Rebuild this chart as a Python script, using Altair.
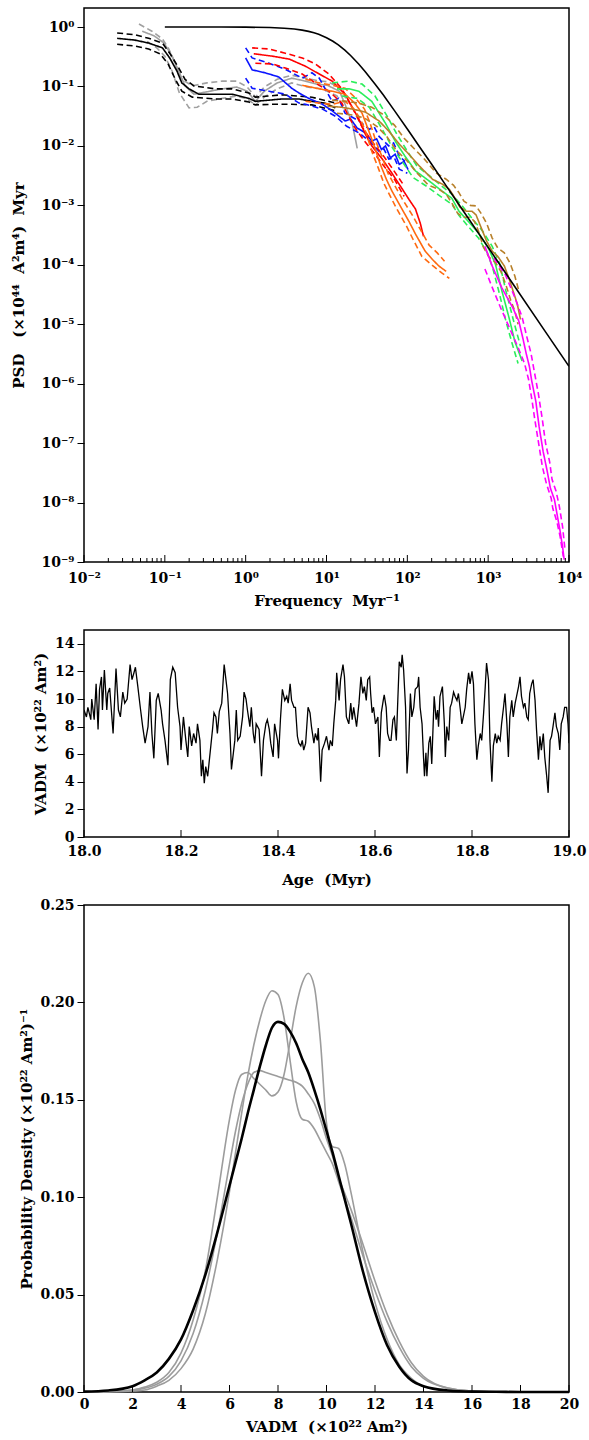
import altair as alt
import pandas as pd

FONT = "DejaVu Serif"
SP = "\u00a0"

# ---------------- top panel: PSD curves, (log10 frequency, log10 PSD) -------------
THEORY_F = [0.1, 0.5, 1, 2, 3, 4, 5, 6, 7, 8, 10, 12, 14, 17, 20, 25, 30, 40, 50, 70, 100,
            150, 200, 300, 500, 1000, 2000, 5000, 10000]
THEORY_P = [1.0, 0.999, 0.995, 0.98, 0.956, 0.925, 0.887, 0.845, 0.8, 0.754, 0.662, 0.577, 0.5,
            0.404, 0.329, 0.239, 0.179, 0.109, 0.073, 0.0385, 0.0192, 0.0086, 0.0049, 0.00217,
            0.00078, 0.000196, 0.000049, 0.0000078, 0.00000196]

BLACK_MID = [(-1.59,-0.19),(-1.37,-0.22),(-1.20,-0.27),(-1.03,-0.35),(-0.94,-0.52),(-0.85,-0.74),
             (-0.79,-0.94),(-0.70,-1.04),(-0.58,-1.13),(-0.38,-1.13),(-0.17,-1.13),(0.04,-1.20),
             (0.12,-1.25),(0.29,-1.23),(0.45,-1.21),(0.66,-1.21),(0.82,-1.25),(0.98,-1.28),(1.11,-1.36)]
BLACK_HI = [(-1.59,-0.10),(-1.37,-0.13),(-1.20,-0.19),(-1.03,-0.27),(-0.94,-0.44),(-0.84,-0.66),
            (-0.75,-0.88),(-0.64,-0.99),(-0.38,-1.04),(-0.17,-1.04),(0.04,-1.11),(0.12,-1.18),
            (0.45,-1.14),(0.82,-1.18),(1.11,-1.28)]
BLACK_LO = [(-1.59,-0.29),(-1.37,-0.32),(-1.20,-0.37),(-1.06,-0.45),(-0.96,-0.62),(-0.87,-0.88),
            (-0.79,-1.08),(-0.66,-1.18),(-0.38,-1.21),(-0.17,-1.21),(0.04,-1.26),(0.12,-1.31),
            (0.33,-1.30),(0.57,-1.30),(0.82,-1.31),(1.11,-1.41)]

GRAY_MID = [(-1.28,-0.07),(-1.13,-0.15),(-1.01,-0.27),(-0.91,-0.49),(-0.82,-0.77),(-0.75,-0.99),
            (-0.64,-1.13),(-0.48,-1.09),(-0.29,-1.04),(-0.11,-1.01),(0.02,-1.08),(0.12,-1.25),
            (0.23,-1.08),(0.39,-0.94),(0.57,-0.86),(0.74,-0.91),(0.88,-0.96),(1.01,-0.98),
            (1.16,-1.08),(1.23,-1.30),(1.32,-1.63),(1.38,-2.04)]
GRAY_HI = [(-1.32,0.05),(-1.16,-0.07),(-1.03,-0.20),(-0.95,-0.37),(-0.87,-0.62),(-0.79,-0.88),
           (-0.66,-0.99),(-0.48,-0.94),(-0.29,-0.91),(-0.11,-0.91),(0.02,-1.01),(0.12,-1.18),
           (0.23,-1.01),(0.39,-0.88),(0.57,-0.81),(0.74,-0.86),(0.88,-0.90),(1.01,-0.92),
           (1.16,-1.01),(1.24,-1.20)]
GRAY_LO = [(-1.22,-0.24),(-1.10,-0.35),(-1.00,-0.49),(-0.91,-0.74),(-0.82,-1.11),(-0.70,-1.36),
           (-0.60,-1.35),(-0.48,-1.25),(-0.29,-1.20),(-0.11,-1.16),(0.02,-1.21),(0.12,-1.31),
           (0.23,-1.18),(0.39,-1.04),(0.57,-0.94),(0.76,-1.01),(0.95,-1.04),(1.13,-1.16),(1.22,-1.38)]

BLUE_MID = [(0.00,-0.52),(0.08,-0.72),(0.24,-0.77),(0.41,-0.84),(0.57,-1.03),(0.66,-1.11),
            (0.78,-1.20),(0.95,-1.30),(1.07,-1.41),(1.23,-1.58),(1.30,-1.55),(1.38,-1.70),
            (1.48,-1.78),(1.56,-1.92),(1.62,-1.88),(1.68,-2.06),(1.73,-2.00),(1.79,-2.20),
            (1.85,-2.14),(1.90,-2.31),(1.96,-2.26),(2.01,-2.40)]
BLUE_HI = [(0.00,-0.35),(0.08,-0.52),(0.29,-0.61),(0.49,-0.71),(0.70,-0.86),(0.82,-0.77),
           (0.91,-0.86),(1.07,-1.25),(1.15,-1.20),(1.23,-1.45),(1.40,-1.58),(1.53,-1.72),
           (1.59,-1.68),(1.65,-1.84),(1.77,-2.00),(1.83,-1.95),(1.90,-2.17),(1.97,-2.26)]
BLUE_LO = [(0.00,-0.86),(0.08,-1.03),(0.29,-1.08),(0.49,-1.13),(0.66,-1.28),(0.74,-1.30),
           (0.95,-1.38),(1.11,-1.50),(1.25,-1.67),(1.40,-1.78),(1.53,-1.92),(1.65,-2.09),
           (1.71,-2.05),(1.77,-2.22),(1.84,-2.20),(1.90,-2.39),(2.00,-2.46)]

RED_MID = [(0.10,-0.45),(0.33,-0.49),(0.54,-0.54),(0.74,-0.66),(0.91,-0.79),(1.07,-0.91),
           (1.23,-1.13),(1.40,-1.55),(1.48,-1.80),(1.56,-2.00),(1.69,-2.22),(1.81,-2.46),
           (1.94,-2.73),(2.02,-2.90),(2.10,-3.06),(2.16,-3.30),(2.20,-3.52)]
RED_HI = [(0.08,-0.35),(0.29,-0.37),(0.49,-0.44),(0.70,-0.52),(0.86,-0.62),(1.03,-0.79),
          (1.19,-1.04),(1.34,-1.41),(1.44,-1.68),(1.56,-1.92),(1.69,-2.14),(1.81,-2.37),(1.94,-2.63)]
RED_LO = [(0.12,-0.61),(0.33,-0.62),(0.49,-0.69),(0.70,-0.79),(0.86,-0.94),(1.03,-1.08),
          (1.19,-1.28),(1.34,-1.67),(1.47,-1.92),(1.59,-2.12),(1.71,-2.34),(1.84,-2.56),(1.96,-2.85)]

ORANGE_MID = [(0.70,-0.98),(0.91,-1.04),(1.07,-1.08),(1.23,-1.13),(1.35,-1.28),(1.44,-1.45),
              (1.51,-1.70),(1.59,-2.00),(1.66,-2.29),(1.74,-2.56),(1.81,-2.76),(1.90,-2.98),
              (2.02,-3.27),(2.10,-3.48),(2.22,-3.77),(2.31,-3.91),(2.39,-4.02),(2.48,-4.11)]
ORANGE_HI = [(0.74,-0.88),(0.91,-0.94),(1.07,-0.98),(1.23,-1.03),(1.35,-1.18),(1.47,-1.38),
             (1.54,-1.62),(1.61,-1.92),(1.69,-2.19),(1.76,-2.46),(1.85,-2.68),(1.94,-2.90),
             (2.06,-3.16),(2.15,-3.38),(2.27,-3.67),(2.37,-3.80),(2.46,-3.94)]
ORANGE_LO = [(0.74,-1.25),(0.91,-1.28),(1.07,-1.30),(1.23,-1.25),(1.34,-1.38),(1.42,-1.55),
             (1.49,-1.78),(1.56,-2.09),(1.64,-2.37),(1.71,-2.63),(1.79,-2.85),(1.87,-3.06),
             (1.99,-3.35),(2.07,-3.57),(2.18,-3.86),(2.31,-4.01),(2.43,-4.14),(2.52,-4.23)]

GREEN_MID = [(1.13,-1.04),(1.28,-1.04),(1.40,-1.08),(1.56,-1.25),(1.73,-1.62),(1.85,-1.92),
             (1.97,-2.17),(2.10,-2.42),(2.27,-2.59),(2.43,-2.76),(2.55,-2.88),(2.64,-3.10),
             (2.76,-3.28),(2.89,-3.48),(3.01,-3.74),(3.09,-3.99),(3.17,-4.44),(3.26,-4.90),
             (3.33,-5.29),(3.42,-5.62)]
GREEN_HI = [(1.07,-0.94),(1.28,-0.91),(1.44,-0.96),(1.60,-1.16),(1.75,-1.50),(1.87,-1.80),
            (2.00,-2.09),(2.12,-2.34),(2.28,-2.51),(2.43,-2.68),(2.55,-2.81),(2.68,-3.01),
            (2.80,-3.22),(2.93,-3.43),(3.05,-3.69),(3.14,-3.97),(3.22,-4.44),(3.31,-4.92),(3.40,-5.37)]
GREEN_LO = [(1.19,-1.16),(1.38,-1.20),(1.53,-1.35),(1.69,-1.72),(1.82,-2.04),(1.95,-2.29),
            (2.07,-2.53),(2.25,-2.69),(2.41,-2.85),(2.55,-2.98),(2.64,-3.17),(2.75,-3.35),
            (2.88,-3.55),(2.99,-3.80),(3.06,-4.07),(3.14,-4.49),(3.22,-4.95),(3.30,-5.34),(3.37,-5.66)]

BROWN_MID = [(1.01,-1.33),(1.19,-1.35),(1.32,-1.38),(1.48,-1.43),(1.65,-1.58),(1.77,-1.75),
             (1.90,-1.97),(2.02,-2.14),(2.15,-2.34),(2.31,-2.56),(2.43,-2.64),(2.52,-2.73),
             (2.59,-2.88),(2.65,-3.03),(2.73,-3.10),(2.80,-3.10),(2.85,-3.16),(2.90,-3.33),
             (2.98,-3.60),(3.05,-3.77),(3.12,-3.86),(3.20,-4.02),(3.26,-4.24),(3.32,-4.49),
             (3.36,-4.66),(3.40,-4.92)]
BROWN_HI = [(1.07,-1.23),(1.25,-1.25),(1.40,-1.28),(1.56,-1.35),(1.71,-1.48),(1.84,-1.65),
            (1.96,-1.87),(2.08,-2.04),(2.21,-2.22),(2.36,-2.46),(2.48,-2.56),(2.57,-2.66),
            (2.64,-2.79),(2.70,-2.93),(2.78,-3.00),(2.85,-3.01),(2.91,-3.13),(2.98,-3.30),
            (3.05,-3.55),(3.12,-3.72),(3.20,-3.80),(3.27,-3.97),(3.33,-4.19),(3.38,-4.44)]
BROWN_LO = [(1.13,-1.45),(1.32,-1.48),(1.47,-1.53),(1.63,-1.68),(1.75,-1.85),(1.86,-2.07),
            (1.99,-2.24),(2.11,-2.44),(2.26,-2.66),(2.39,-2.73),(2.48,-2.81),(2.55,-2.96),
            (2.62,-3.13),(2.69,-3.20),(2.78,-3.20),(2.83,-3.27),(2.88,-3.43),(2.94,-3.70),
            (3.01,-3.87),(3.09,-3.96),(3.16,-4.12),(3.22,-4.34),(3.28,-4.60),(3.33,-4.78),(3.37,-5.00)]

MAGENTA_MID = [(2.96,-3.69),(3.05,-4.02),(3.17,-4.39),(3.30,-4.71),(3.38,-4.95),(3.43,-5.24),
               (3.47,-5.49),(3.51,-5.71),(3.54,-5.96),(3.59,-6.30),(3.63,-6.72),(3.68,-7.14),
               (3.73,-7.47),(3.77,-7.76),(3.82,-7.95),(3.85,-8.18),(3.89,-8.48),(3.92,-8.74),(3.94,-8.96)]
MAGENTA_LO = [(2.96,-4.07),(3.05,-4.38),(3.15,-4.71),(3.26,-5.05),(3.37,-5.39),(3.45,-5.66),
              (3.50,-5.93),(3.54,-6.26),(3.58,-6.63),(3.63,-7.05),(3.67,-7.39),(3.72,-7.68),
              (3.78,-7.93),(3.80,-8.10),(3.85,-8.32),(3.89,-8.57),(3.93,-8.91)]
MAGENTA_HI = [(3.07,-3.89),(3.21,-4.16),(3.33,-4.55),(3.42,-4.88),(3.48,-5.22),(3.53,-5.49),
              (3.57,-5.79),(3.62,-6.16),(3.67,-6.60),(3.71,-7.00),(3.76,-7.31),(3.79,-7.61),
              (3.84,-7.81),(3.88,-8.06),(3.92,-8.40),(3.95,-8.79)]

PSD_LINES = [
    ("gray", "dashed", GRAY_HI), ("gray", "dashed", GRAY_LO), ("gray", "solid", GRAY_MID),
    ("black", "dashed", BLACK_HI), ("black", "dashed", BLACK_LO), ("black", "solid", BLACK_MID),
    ("blue", "dashed", BLUE_HI), ("blue", "dashed", BLUE_LO), ("blue", "solid", BLUE_MID),
    ("red", "dashed", RED_HI), ("red", "dashed", RED_LO), ("red", "solid", RED_MID),
    ("orange", "dashed", ORANGE_HI), ("orange", "dashed", ORANGE_LO), ("orange", "solid", ORANGE_MID),
    ("green", "dashed", GREEN_HI), ("green", "dashed", GREEN_LO), ("green", "solid", GREEN_MID),
    ("brown", "dashed", BROWN_HI), ("brown", "dashed", BROWN_LO), ("brown", "solid", BROWN_MID),
    ("magenta", "dashed", MAGENTA_HI), ("magenta", "dashed", MAGENTA_LO), ("magenta", "solid", MAGENTA_MID),
]
GROUPS = ["black", "gray", "blue", "red", "orange", "green", "brown", "magenta"]
GROUP_COLORS = ["#000000", "#a0a0a0", "#0a14ff", "#ff0000", "#ff6a10", "#2aee5a", "#b8802a", "#ff00ff"]

X_DECADES = [0.01, 0.1, 1, 10, 100, 1000, 10000]
X_MINOR = [k * d for d in [0.01, 0.1, 1, 10, 100, 1000] for k in range(2, 10)]
Y_DECADES = [1e-9, 1e-8, 1e-7, 1e-6, 1e-5, 1e-4, 1e-3, 1e-2, 1e-1, 1]

# ---------------- middle panel: VADM time series ----------------
VADM_PART1 = [
 (18.000,9.2),(18.005,8.7),(18.008,9.4),(18.014,8.5),(18.016,10.0),(18.021,8.5),(18.025,11.1),
 (18.029,7.8),(18.032,10.7),(18.036,11.6),(18.038,9.2),(18.042,12.1),(18.047,9.2),(18.049,10.4),
 (18.053,10.8),(18.060,7.5),(18.066,12.2),(18.071,9.2),(18.075,8.7),(18.080,10.5),(18.084,9.7),
 (18.089,10.0),(18.095,12.5),(18.099,11.4),(18.103,11.9),(18.106,12.3),(18.111,10.9),(18.116,9.4),
 (18.121,8.0),(18.126,6.8),(18.132,8.0),(18.136,10.5),(18.140,7.5),(18.144,5.7),(18.149,9.9),
 (18.153,10.4),(18.159,9.2),(18.162,8.2),(18.167,7.0),(18.173,5.2),(18.178,11.4),(18.183,12.3),
 (18.188,11.9),(18.193,9.4),(18.198,8.0),(18.200,6.3),(18.205,8.7),(18.210,7.0),(18.214,5.8),
 (18.217,8.0),(18.222,6.6),(18.226,7.5),(18.231,6.8),(18.234,8.2),(18.239,7.0),(18.242,4.4),
 (18.245,5.6),(18.248,3.9),(18.251,5.1),(18.255,4.4),(18.260,6.1),(18.265,7.8),(18.268,9.0),
 (18.272,8.7),(18.275,7.5),(18.279,9.1),(18.284,9.7),(18.289,12.5),(18.292,11.6),(18.296,10.4),
 (18.301,7.5),(18.304,4.9),(18.308,6.1),(18.311,7.0),(18.314,9.2),(18.317,7.0),(18.322,7.3),
 (18.327,8.7),(18.330,10.5),(18.334,10.0),(18.337,9.2),(18.342,8.0),(18.345,9.4),(18.349,7.5),
 (18.352,6.8),(18.355,8.2),(18.361,7.8),(18.366,4.4),(18.370,7.0),(18.375,8.2),(18.378,8.5),
 (18.382,7.8),(18.385,6.8),(18.390,5.8),(18.393,8.2),(18.399,7.0),(18.401,5.7),(18.405,8.5),
 (18.409,10.7),(18.414,9.9),(18.418,10.2),(18.421,9.7),(18.425,11.1),(18.428,9.9),(18.433,9.4),
 (18.436,9.4),(18.440,7.3),(18.443,6.8),(18.447,6.6),(18.450,7.0),(18.453,6.3),(18.457,6.8),
 (18.462,9.4),(18.466,9.0),(18.469,8.0),(18.474,6.8),(18.477,7.5),(18.481,7.0),(18.483,7.9),
 (18.486,5.6),(18.488,4.0)]
VADM_PART2 = [
 (18.491,6.3),(18.496,6.8),(18.500,7.3),(18.505,6.3),(18.508,7.0),(18.512,6.6),(18.515,8.2),
 (18.519,9.9),(18.521,11.9),(18.523,11.1),(18.526,9.9),(18.529,11.4),(18.534,12.5),(18.537,11.6),
 (18.541,8.7),(18.546,8.2),(18.550,9.7),(18.553,8.5),(18.556,9.4),(18.562,8.0),(18.567,9.7),
 (18.571,11.6),(18.575,10.4),(18.578,10.9),(18.582,9.9),(18.585,11.4),(18.589,11.6),(18.591,10.4),
 (18.594,9.0),(18.597,9.4),(18.601,8.2),(18.606,8.7),(18.609,5.8),(18.613,9.0),(18.617,9.9),
 (18.619,10.3),(18.623,9.4),(18.626,7.5),(18.630,7.0),(18.633,7.0),(18.637,8.5),(18.640,8.7),
 (18.644,7.0),(18.647,9.9),(18.650,12.7),(18.654,12.3),(18.656,13.2),(18.659,12.1),(18.663,9.4),
 (18.666,4.6),(18.669,6.3),(18.673,10.4),(18.676,8.7),(18.680,9.4),(18.683,10.7),(18.688,10.9),
 (18.690,11.6),(18.693,9.4),(18.697,8.2),(18.700,5.8),(18.702,4.4),(18.705,6.1),(18.707,4.4),
 (18.711,6.8),(18.714,7.3),(18.717,5.3),(18.722,10.2),(18.726,8.5),(18.729,9.2),(18.731,8.0),
 (18.734,10.2),(18.739,10.9),(18.743,8.2),(18.745,5.8),(18.748,8.0),(18.752,7.0),(18.755,9.4),
 (18.758,9.7),(18.762,10.5),(18.765,10.2),(18.769,9.9),(18.772,10.4),(18.776,9.2),(18.779,8.2),
 (18.782,8.7),(18.786,9.4),(18.789,10.7),(18.793,11.9),(18.796,11.1),(18.800,12.0),(18.803,11.1),
 (18.806,8.2),(18.810,5.6),(18.813,6.6),(18.817,7.5),(18.820,7.0),(18.824,9.0),(18.827,10.7),
 (18.830,12.6),(18.834,11.4),(18.837,7.0),(18.841,4.0),(18.844,6.6),(18.848,7.5),(18.851,6.8),
 (18.854,7.3),(18.858,7.0),(18.861,8.2),(18.865,9.4),(18.868,10.4),(18.872,8.2),(18.875,5.8),
 (18.878,8.7),(18.882,9.9),(18.885,8.7),(18.889,9.7),(18.892,10.2),(18.896,10.9),(18.899,11.6),
 (18.902,10.2),(18.906,9.4),(18.909,9.7),(18.913,8.7),(18.916,8.5),(18.919,10.4),(18.923,11.1),
 (18.926,11.4),(18.930,9.9),(18.933,7.8),(18.937,5.6),(18.940,7.3),(18.943,6.3),(18.947,7.5),
 (18.950,5.8),(18.954,4.4),(18.957,3.2),(18.961,7.0),(18.964,7.3),(18.967,8.0),(18.971,9.0),
 (18.974,8.0),(18.978,7.5),(18.981,6.3),(18.984,8.2),(18.988,8.7),(18.991,9.4),(18.995,9.4),
 (18.998,8.2),(19.000,6.8)]
AGE_TICKS = [18.0, 18.2, 18.4, 18.6, 18.8, 19.0]
VADM_TICKS = [0, 2, 4, 6, 8, 10, 12, 14]

# ---------------- bottom panel: probability densities ----------------
PDF_X = [0, 1, 2, 2.5, 3, 3.5, 4, 4.5, 5, 5.5, 6, 6.25, 6.5, 6.75, 7, 7.25, 7.5, 7.75, 8, 8.25,
         8.5, 8.75, 9, 9.25, 9.5, 9.75, 10, 10.25, 10.5, 10.75, 11, 11.5, 12, 12.5, 13, 13.5, 14,
         15, 16, 17, 18, 20]
PDF_BLACK = [0.0002, 0.0008, 0.003, 0.006, 0.010, 0.017, 0.027, 0.042, 0.060, 0.082, 0.106, 0.118,
             0.130, 0.143, 0.155, 0.167, 0.178, 0.187, 0.190, 0.189, 0.185, 0.179, 0.171, 0.164,
             0.155, 0.145, 0.134, 0.123, 0.111, 0.099, 0.087, 0.062, 0.041, 0.024, 0.013, 0.006,
             0.003, 0.0008, 0.0002, 0.0001, 0.0, 0.0]
PDF_GRAY_A = [0.0, 0.0003, 0.001, 0.0025, 0.005, 0.010, 0.020, 0.037, 0.062, 0.100, 0.140, 0.155,
              0.163, 0.164, 0.161, 0.158, 0.155, 0.152, 0.154, 0.163, 0.180, 0.198, 0.210, 0.215,
              0.208, 0.180, 0.138, 0.126, 0.125, 0.117, 0.103, 0.072, 0.046, 0.027, 0.014, 0.007,
              0.003, 0.0008, 0.0002, 0.00005, 0.0, 0.0]
PDF_GRAY_B = [0.0, 0.0001, 0.0005, 0.001, 0.003, 0.006, 0.012, 0.022, 0.040, 0.068, 0.103, 0.123,
              0.143, 0.162, 0.178, 0.191, 0.201, 0.206, 0.204, 0.192, 0.170, 0.149, 0.140, 0.139,
              0.135, 0.129, 0.123, 0.117, 0.108, 0.099, 0.090, 0.070, 0.052, 0.036, 0.023, 0.013,
              0.007, 0.002, 0.0005, 0.0001, 0.0, 0.0]
PDF_GRAY_C = [0.0, 0.0002, 0.001, 0.002, 0.004, 0.008, 0.016, 0.030, 0.052, 0.082, 0.117, 0.134,
              0.148, 0.158, 0.164, 0.165, 0.164, 0.163, 0.162, 0.161, 0.160, 0.159, 0.157, 0.153,
              0.148, 0.140, 0.130, 0.121, 0.110, 0.102, 0.094, 0.076, 0.057, 0.040, 0.026, 0.015,
              0.008, 0.002, 0.0005, 0.0001, 0.0, 0.0]
PDF_X_TICKS = list(range(0, 21, 2))
PDF_Y_TICKS = [0.0, 0.05, 0.10, 0.15, 0.20, 0.25]

# ---------------- sizes ----------------
W = 485
H_TOP = 554
H_MID = 207
H_BOT = 487

# ---------------- build tables ----------------
rows = []
for k, (grp, style, pts) in enumerate(PSD_LINES):
    for i, (lf, lp) in enumerate(pts):
        rows.append({"series": f"{grp}-{style}-{k}", "group": grp, "style": style, "i": i,
                     "f": 10 ** lf, "psd": 10 ** lp, "k": k})
psd_df = pd.DataFrame(rows)
theory_df = pd.DataFrame({"f": THEORY_F, "psd": THEORY_P})
xmaj_df = pd.DataFrame({"f": X_DECADES})
xmin_df = pd.DataFrame({"f": X_MINOR})

SUP_X = "['10⁻²','10⁻¹','10⁰','10¹','10²','10³','10⁴'][round(log(datum.value)/LN10)+2]"
SUP_Y = ("['10⁻⁹','10⁻⁸','10⁻⁷','10⁻⁶','10⁻⁵','10⁻⁴','10⁻³','10⁻²','10⁻¹','10⁰']"
         "[round(log(datum.value)/LN10)+9]")

x_top = alt.X("f:Q", scale=alt.Scale(type="log", domain=[0.01, 10000]),
              axis=alt.Axis(values=X_DECADES, labelExpr=SUP_X, ticks=False, tickSize=0,
                            labelPadding=9, labelFlush=False, labelOverlap=False,
                            title="Frequency" + SP * 2 + "Myr⁻¹", titleX=W / 2, titleY=38,
                            titleBaseline="middle", titleAlign="center"))
y_top = alt.Y("psd:Q", scale=alt.Scale(type="log", domain=[1e-9, 2.09]),
              axis=alt.Axis(values=Y_DECADES, labelExpr=SUP_Y, tickSize=7, labelPadding=3,
                            labelOverlap=False,
                            title="PSD" + SP * 3 + "(×10⁴⁴" + SP * 2 + "A²m⁴)" + SP * 2 + "Myr",
                            titleX=-66, titleY=H_TOP / 2, titleAngle=270,
                            titleBaseline="middle", titleAlign="center"))

theory = alt.Chart(theory_df).mark_line(color="black", strokeWidth=1.6, clip=True).encode(
    x=x_top, y=y_top)
curves = alt.Chart(psd_df).mark_line(strokeWidth=1.6, clip=True).encode(
    x=x_top, y=y_top,
    color=alt.Color("group:N", scale=alt.Scale(domain=GROUPS, range=GROUP_COLORS), legend=None),
    strokeDash=alt.StrokeDash("style:N", scale=alt.Scale(domain=["solid", "dashed"],
                                                         range=[[1, 0], [6, 3.5]]), legend=None),
    detail="series:N",
    order="i:Q",
)
tmaj = alt.Chart(xmaj_df).mark_rule(color="black", strokeWidth=1).encode(
    x=x_top, y=alt.value(H_TOP), y2=alt.value(H_TOP - 7))
tmin = alt.Chart(xmin_df).mark_rule(color="black", strokeWidth=1).encode(
    x=x_top, y=alt.value(H_TOP), y2=alt.value(H_TOP - 4))
top = alt.layer(curves, theory, tmaj, tmin).properties(width=W, height=H_TOP)

# middle
mid_df = pd.DataFrame(VADM_PART1 + VADM_PART2, columns=["age", "vadm"])
mid_df["i"] = range(len(mid_df))
x_mid = alt.X("age:Q", scale=alt.Scale(domain=[18, 19], nice=False),
              axis=alt.Axis(values=AGE_TICKS, format=".1f", ticks=False, tickSize=0,
                            labelPadding=7, labelFlush=False, title="Age" + SP * 2 + "(Myr)",
                            titleX=W / 2, titleY=42, titleBaseline="middle", titleAlign="center"))
y_mid = alt.Y("vadm:Q", scale=alt.Scale(domain=[0, 15], nice=False, zero=False),
              axis=alt.Axis(values=VADM_TICKS, tickSize=7, labelPadding=3,
                            title="VADM" + SP * 2 + "(×10²²" + SP + "Am²)", titleX=-44,
                            titleY=H_MID / 2, titleAngle=270, titleBaseline="middle",
                            titleAlign="center"))
mid_line = alt.Chart(mid_df).mark_line(color="black", strokeWidth=1.3, clip=True).encode(
    x=x_mid, y=y_mid, order="i:Q")
mid_ticks = alt.Chart(pd.DataFrame({"age": AGE_TICKS})).mark_rule(color="black").encode(
    x=x_mid, y=alt.value(H_MID), y2=alt.value(H_MID - 7))
mid = alt.layer(mid_line, mid_ticks).properties(width=W, height=H_MID)

# bottom
pdf_rows = []
for name, ys in [("A", PDF_GRAY_A), ("B", PDF_GRAY_B), ("C", PDF_GRAY_C)]:
    for x, y in zip(PDF_X, ys):
        pdf_rows.append({"curve": name, "v": x, "p": y})
gray_df = pd.DataFrame(pdf_rows)
black_df = pd.DataFrame({"v": PDF_X, "p": PDF_BLACK})
x_bot = alt.X("v:Q", scale=alt.Scale(domain=[0, 20], nice=False),
              axis=alt.Axis(values=PDF_X_TICKS, ticks=False, tickSize=0, labelPadding=5,
                            labelFlush=False, title="VADM" + SP * 2 + "(×10²²" + SP + "Am²)",
                            titleX=W / 2, titleY=34, titleBaseline="middle", titleAlign="center"))
y_bot = alt.Y("p:Q", scale=alt.Scale(domain=[0, 0.25], nice=False),
              axis=alt.Axis(values=PDF_Y_TICKS, format=".2f", tickSize=7, labelPadding=3,
                            title="Probability Density (×10²²" + SP + "Am²)⁻¹", titleX=-58,
                            titleY=H_BOT / 2, titleAngle=270, titleBaseline="middle",
                            titleAlign="center"))
gray_lines = alt.Chart(gray_df).mark_line(color="#9c9c9c", strokeWidth=1.6,
                                          interpolate="monotone").encode(
    x=x_bot, y=y_bot, detail="curve:N")
black_line = alt.Chart(black_df).mark_line(color="black", strokeWidth=2.6,
                                           interpolate="monotone").encode(x=x_bot, y=y_bot)
bot_ticks = alt.Chart(pd.DataFrame({"v": PDF_X_TICKS})).mark_rule(color="black").encode(
    x=x_bot, y=alt.value(H_BOT), y2=alt.value(H_BOT - 7))
bot = alt.layer(gray_lines, black_line, bot_ticks).properties(width=W, height=H_BOT)

chart = alt.vconcat(top, mid, bot, spacing=68, bounds="flush").properties(
    padding={"left": 10, "top": 7, "right": 0, "bottom": 0},
    background="white",
).configure_view(stroke="black", strokeWidth=1.5).configure_axis(
    labelFont=FONT, titleFont=FONT, labelFontWeight="bold", titleFontWeight="bold",
    labelFontSize=14, titleFontSize=15, labelColor="black", titleColor="black",
    tickColor="black", tickWidth=1, domain=False, grid=False,
)

chart.save("out.html", embed_options={"renderer": "svg", "actions": False})
